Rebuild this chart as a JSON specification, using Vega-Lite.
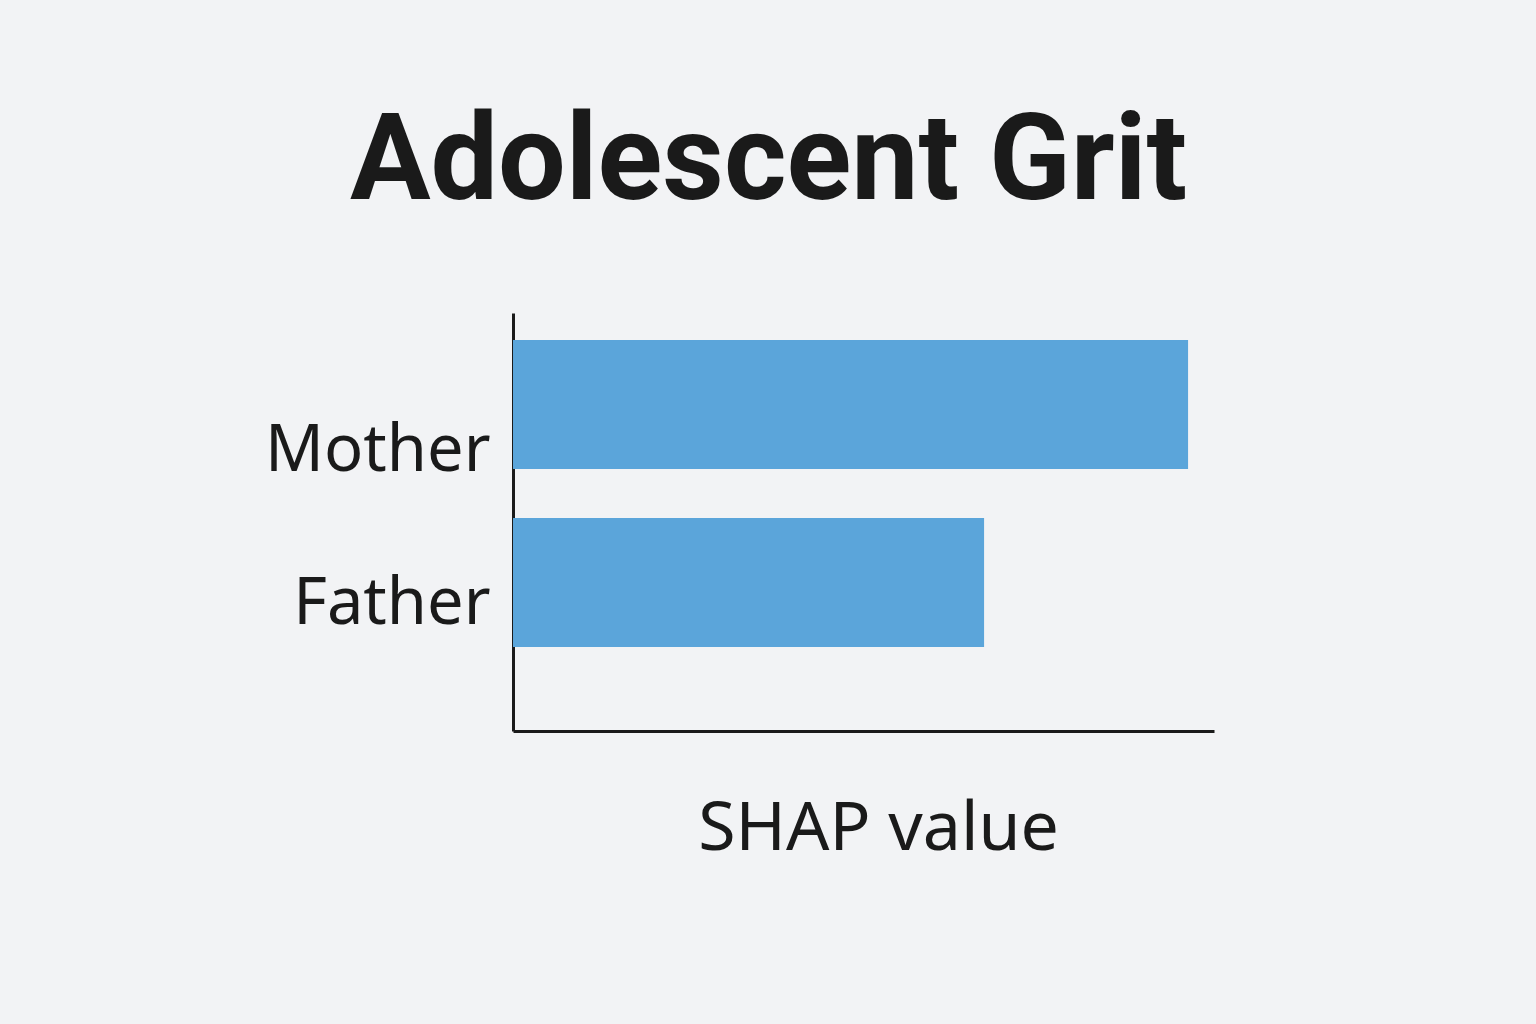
{
  "$schema": "https://vega.github.io/schema/vega-lite/v6.json",
  "width": 701,
  "height": 418,
  "autosize": {"type": "none"},
  "padding": {"left": 513, "top": 313, "right": 322, "bottom": 293},
  "background": "#f2f3f5",
  "title": {
    "text": "Adolescent Grit",
    "font": "Roboto",
    "fontSize": 120,
    "fontWeight": "bold",
    "color": "#1a1a1a",
    "anchor": "middle",
    "dx": -95,
    "baseline": "alphabetic",
    "offset": -6
  },
  "data": {
    "values": [
      {"parent": "Mother", "shap": 0.4815},
      {"parent": "Father", "shap": 0.336}
    ]
  },
  "mark": {"type": "bar", "color": "#5ba5da"},
  "encoding": {
    "y": {
      "field": "parent",
      "type": "nominal",
      "sort": ["Mother", "Father"],
      "scale": {"paddingInner": 0.275, "paddingOuter": 0.312, "align": 0.243},
      "axis": {
        "title": null,
        "ticks": false,
        "labelFont": "Noto Sans",
        "labelFontSize": 65,
        "labelLimit": 500,
        "labelColor": "#1a1a1a",
        "labelPadding": 23,
        "labelOffset": {"condition": {"test": "datum.value == 'Mother'", "value": 47}, "value": 22},
        "domainColor": "#1a1a1a",
        "domainWidth": 3
      }
    },
    "x": {
      "field": "shap",
      "type": "quantitative",
      "scale": {"domain": [0, 0.5], "nice": false},
      "axis": {
        "title": "SHAP value",
        "titleFont": "Noto Sans",
        "titleFontSize": 68,
        "titleFontWeight": "normal",
        "titleColor": "#1a1a1a",
        "titleX": 365,
        "titleY": 118,
        "titleBaseline": "alphabetic",
        "titleAnchor": "middle",
        "ticks": false,
        "labels": false,
        "grid": false,
        "domainColor": "#1a1a1a",
        "domainWidth": 3
      }
    }
  },
  "config": {"view": {"stroke": null}}
}
